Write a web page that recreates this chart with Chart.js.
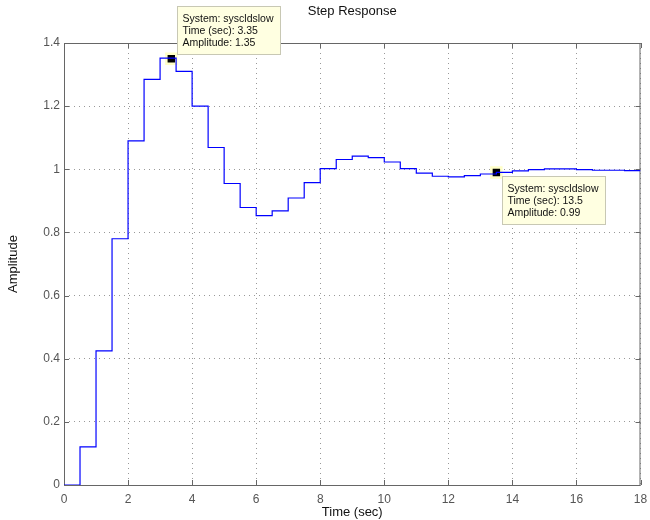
<!DOCTYPE html>
<html>
<head>
<meta charset="utf-8">
<script src="https://cdn.jsdelivr.net/npm/chart.js@4.4.0/dist/chart.umd.min.js"></script>
<style>
  html, body { margin: 0; padding: 0; background: #fff; }
  #wrap { width: 650px; height: 520px; }
</style>
</head>
<body>
<div id="wrap"><canvas id="stepChart" width="650" height="520"></canvas></div>
<script>
// sample instants (sec) and held amplitude of the discrete step response
const times = [0, 0.5, 1, 1.5, 2, 2.5, 3, 3.5, 4, 4.5, 5, 5.5, 6, 6.5, 7, 7.5, 8, 8.5, 9,
  9.5, 10, 10.5, 11, 11.5, 12, 12.5, 13, 13.5, 14, 14.5, 15, 15.5, 16, 16.5, 17, 17.5, 18];
const amplitude = [0, 0.121, 0.425, 0.780, 1.090, 1.285, 1.352, 1.310, 1.200, 1.069,
  0.955, 0.879, 0.853, 0.868, 0.909, 0.958, 1.002, 1.031, 1.042, 1.037, 1.023, 1.002,
  0.988, 0.978, 0.976, 0.980, 0.985, 0.990, 0.995, 0.999, 1.001, 1.001, 0.999, 0.997,
  0.997, 0.996, 0.996];

// data tips
const tipTimes = [3.35, 13.5];
const tipAmps = [1.35, 0.99];
const tipLabels = ['3.35', '13.5'];
const tipAmpLabels = ['1.35', '0.99'];

const xTicks = [0, 2, 4, 6, 8, 10, 12, 14, 16, 18];
const yTicks = [0, 0.2, 0.4, 0.6, 0.8, 1, 1.2, 1.4];

const FONT = 'Liberation Sans';

// box around the axes with inward tick marks (MATLAB style)
const framePlugin = {
    id: 'frame',
    beforeDatasetsDraw(chart) {
        const { ctx, chartArea: a, scales: { x, y } } = chart;
        ctx.save();
        ctx.strokeStyle = '#666';
        ctx.lineWidth = 1;
        ctx.strokeRect(a.left + 0.5, a.top + 0.5, a.right - a.left - 1, a.bottom - a.top);
        ctx.beginPath();
        xTicks.forEach(v => {
            const px = Math.round(x.getPixelForValue(v)) + 0.5;
            ctx.moveTo(px, a.bottom); ctx.lineTo(px, a.bottom - 5);
            ctx.moveTo(px, a.top); ctx.lineTo(px, a.top + 5);
        });
        yTicks.forEach(v => {
            const py = Math.round(y.getPixelForValue(v)) + 0.5;
            ctx.moveTo(a.left, py); ctx.lineTo(a.left + 5, py);
            ctx.moveTo(a.right, py); ctx.lineTo(a.right - 5, py);
        });
        ctx.stroke();
        ctx.restore();
    }
};

// yellow data tip boxes next to the markers
const tipPlugin = {
    id: 'tips',
    afterDraw(chart) {
        const { ctx, scales: { x, y } } = chart;
        const w = 103, h = 48;
        ctx.save();
        ctx.font = '10.5px "' + FONT + '"';
        ctx.textBaseline = 'middle';
        tipTimes.forEach((t, i) => {
            const mx = x.getPixelForValue(t);
            const my = y.getPixelForValue(tipAmps[i]);
            const left = Math.round(mx + 6) + 0.5;
            const top = i === 0 ? Math.round(my - 5 - h) + 0.5 : Math.round(my + 4) + 0.5;
            ctx.fillStyle = '#ffffe1';
            ctx.strokeStyle = '#c8c8b4';
            ctx.lineWidth = 1;
            ctx.fillRect(left, top, w, h);
            ctx.strokeRect(left, top, w, h);
            ctx.fillStyle = '#111';
            ctx.fillText('System: syscldslow', left + 5, top + 12.5);
            ctx.fillText('Time (sec): ' + tipLabels[i], left + 5, top + 24.5);
            ctx.fillText('Amplitude: ' + tipAmpLabels[i], left + 5, top + 36.5);
        });
        ctx.restore();
    }
};

const ctx = document.getElementById('stepChart').getContext('2d');

new Chart(ctx, {
    type: 'line',
    data: {
        datasets: [
            {
                label: 'syscldslow',
                data: times.map((t, i) => ({ x: t, y: amplitude[i] })),
                stepped: true,
                borderColor: '#0000ff',
                borderWidth: 1.2,
                pointRadius: 0,
                fill: false
            },
            {
                label: 'tips',
                data: tipTimes.map((t, i) => ({ x: t, y: tipAmps[i] })),
                showLine: false,
                pointStyle: 'rect',
                pointRadius: 7,
                backgroundColor: '#000',
                borderColor: '#ffffc8',
                borderWidth: 2.5
            }
        ]
    },
    options: {
        responsive: false,
        animation: false,
        layout: { padding: { left: 0, right: 0, top: 0, bottom: 0 } },
        plugins: {
            legend: { display: false },
            tooltip: { enabled: false },
            title: {
                display: true,
                text: 'Step Response',
                fullSize: false,
                color: '#111',
                font: { family: FONT, size: 13, weight: 'normal' },
                padding: { top: 4, bottom: 23.4 }
            }
        },
        scales: {
            x: {
                type: 'linear',
                min: 0,
                max: 18,
                afterBuildTicks: s => { s.ticks = xTicks.map(v => ({ value: v })); },
                afterFit: s => {
                    s.height = 35;
                    // keep the plot's right edge 7px from the canvas edge
                    s.paddingRight = 7;
                    if (s._margins) s._margins.right = 7;
                },
                grid: { color: 'rgba(0,0,0,0.4)', drawTicks: false },
                border: { display: false, dash: [1, 4] },
                ticks: {
                    color: '#555',
                    padding: 7,
                    maxRotation: 0,
                    font: { family: FONT, size: 12 },
                    callback: v => String(v)
                },
                title: {
                    display: true,
                    text: 'Time (sec)',
                    color: '#111',
                    font: { family: FONT, size: 13 },
                    padding: { top: 0.5, bottom: 0 }
                }
            },
            y: {
                type: 'linear',
                min: 0,
                max: 1.4,
                afterBuildTicks: s => { s.ticks = yTicks.map(v => ({ value: v })); },
                afterFit: s => { s.width = 64; },
                grid: { color: 'rgba(0,0,0,0.4)', drawTicks: false },
                border: { display: false, dash: [1, 4] },
                ticks: {
                    color: '#555',
                    padding: 4,
                    font: { family: FONT, size: 12 },
                    callback: v => String(v)
                },
                title: {
                    display: true,
                    text: 'Amplitude',
                    color: '#111',
                    font: { family: FONT, size: 13 },
                    padding: { top: 5.5, bottom: 0 }
                }
            }
        }
    },
    plugins: [framePlugin, tipPlugin]
});
</script>
</body>
</html>
